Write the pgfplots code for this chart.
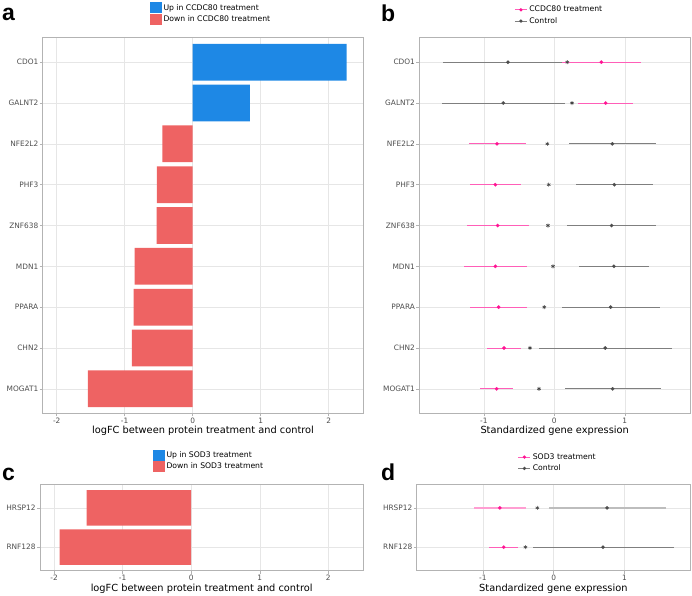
\documentclass[border=0pt]{standalone}
\usepackage{pgfplots}
\pgfplotsset{compat=1.18}
\usepackage{pgfplotstable}
\usepackage{fontspec}
\setmainfont{DejaVu Sans}
\newfontfamily\letterfont{Liberation Sans}

\definecolor{upblue}{HTML}{1E88E5}
\definecolor{downred}{HTML}{EE6363}
\definecolor{pinkpt}{HTML}{FF1493}
\definecolor{pinkline}{HTML}{FF5EB8}
\definecolor{pinklight}{HTML}{FF9ED2}
\definecolor{graypt}{HTML}{4D4D4D}
\definecolor{grayline}{HTML}{7F7F7F}
\definecolor{graylight}{HTML}{BDBDBD}
\definecolor{starcol}{HTML}{444444}
\definecolor{boxcol}{HTML}{B3B3B3}
\definecolor{gridcol}{HTML}{E6E6E6}
\definecolor{ticklab}{HTML}{4D4D4D}

\pgfplotstableread{
y val
9 2.265
8 0.843
}\upA
\pgfplotstableread{
y val
7 -0.447
6 -0.525
5 -0.530
4 -0.853
3 -0.868
2 -0.893
1 -1.540
}\downA
\pgfplotstableread{
y tm tlo thi cm clo chi star
9 0.667 0.113 1.225 -0.657 -1.579 0.120 0.184
8 0.728 0.340 1.120 -0.723 -1.593 0.151 0.251
7 -0.813 -1.210 -0.407 0.823 0.208 1.437 -0.099
6 -0.837 -1.196 -0.473 0.851 0.307 1.395 -0.080
5 -0.804 -1.239 -0.364 0.813 0.184 1.437 -0.090
4 -0.837 -1.281 -0.388 0.846 0.355 1.338 -0.019
3 -0.790 -1.191 -0.388 0.799 0.109 1.494 -0.142
2 -0.714 -0.950 -0.473 0.723 -0.217 1.664 -0.345
1 -0.818 -1.050 -0.582 0.827 0.151 1.508 -0.217
}\dataB
\pgfplotstableread{
y val
2 -1.526
1 -1.919
}\downC
\pgfplotstableread{
y tm tlo thi cm clo chi star
2 -0.762 -1.125 -0.395 0.753 -0.066 1.581 -0.231
}\dataDa
\pgfplotstableread{
y tm tlo thi cm clo chi star
1 -0.706 -0.908 -0.499 0.696 -0.296 1.694 -0.400
}\dataDb

\pgfplotsset{
  panel/.style={
    scale only axis, anchor=north west,
    axis line style={boxcol, line width=0.6pt},
    grid=major, major grid style={gridcol, line width=0.5pt},
    tick style={boxcol, line width=0.5pt}, tick align=outside,
    major tick length=3pt,
    xtick pos=bottom, ytick pos=left,
    ticklabel style={text=ticklab, font=\fontsize{7.4}{8}\selectfont, inner sep=1.2pt},
    xlabel style={font=\fontsize{9.8}{10}\selectfont, text=black, inner sep=0pt, yshift=-1.5pt},
    legend style={draw=none, fill=none, inner sep=0pt, font=\fontsize{7.7}{9}\selectfont,
      row sep=0pt, cells={anchor=west}, text=black},
    legend cell align=left,
  },
  barpanel/.style={panel, xmin=-2.206, xmax=2.51,
    xtick={-2,-1,0,1,2}, xticklabels={{-2},{-1},0,1,2},
    xlabel={logFC between protein treatment and control}},
  dotpanel/.style={panel,
    xtick={-1,0,1}, xticklabels={{-1},0,1},
    xlabel={Standardized gene expression}},
  sq/.style={legend image code/.code={\fill[#1,draw=none] (0pt,-5.6pt) rectangle (11.2pt,5.6pt);}},
  errw/.style 2 args={color=#1, draw=none, mark=none,
    error bars/.cd, x dir=both, x explicit, error mark=none,
    error bar style={draw=#1, line width=#2}},
  errctl/.style={errw={#1}{0.8pt}},
  dot/.style={only marks, mark=*, mark size=1.8pt, color=#1, mark options={solid, fill=#1, draw=#1, line width=0.1pt}},
  star/.style={only marks, mark=asterisk, mark size=2pt, color=starcol, mark options={solid, draw=starcol, line width=0.6pt}},
}
\newcommand{\lineimg}[2]{\draw[#1,line width=0.8pt] (0pt,0pt)--(12pt,0pt); \fill[#2] (6pt,0pt) circle (1.8pt);}

\begin{document}
\begin{tikzpicture}
\useasboundingbox (0,0) rectangle (692pt,-595pt);

% ---------- panel a ----------
\begin{axis}[barpanel, at={(42.7pt,-37.7pt)}, width=320.6pt, height=375.6pt,
  ymin=0.4, ymax=9.6, ytick={1,...,9},
  yticklabels={MOGAT1,CHN2,PPARA,MDN1,ZNF638,PHF3,NFE2L2,GALNT2,CDO1},
  legend style={at={(axis description cs:0.335,1)}, anchor=north west, yshift=35.7pt}]
\addplot[xbar, bar width=0.9, bar shift=0pt, fill=upblue, draw=none, sq=upblue]
  table[x=val, y=y] {\upA};
\addlegendentry{Up in CCDC80 treatment}
\addplot[xbar, bar width=0.9, bar shift=0pt, fill=downred, draw=none, sq=downred]
  table[x=val, y=y] {\downA};
\addlegendentry{Down in CCDC80 treatment}
\end{axis}

% ---------- panel b ----------
\begin{axis}[dotpanel, at={(419.3pt,-37.7pt)}, width=270.7pt, height=375.6pt,
  xmin=-1.915, xmax=1.925, ymin=0.4, ymax=9.6, ytick={1,...,9},
  yticklabels={MOGAT1,CHN2,PPARA,MDN1,ZNF638,PHF3,NFE2L2,GALNT2,CDO1},
  reverse legend,
  legend style={at={(axis description cs:0.351,1)}, anchor=north west, yshift=33.7pt}]
\addplot[legend image code/.code={\lineimg{grayline}{graypt}}, errctl=grayline]
  table[x=cm, y=y, x error plus expr=\thisrow{chi}-\thisrow{cm}, x error minus expr=\thisrow{cm}-\thisrow{clo}] {\dataB};
\addlegendentry{Control}
\addplot[legend image code/.code={\lineimg{pinkline}{pinkpt}}, errctl=pinkline]
  table[x=tm, y=y, x error plus expr=\thisrow{thi}-\thisrow{tm}, x error minus expr=\thisrow{tm}-\thisrow{tlo}] {\dataB};
\addlegendentry{CCDC80 treatment}
\addplot[forget plot, dot=graypt] table[x=cm, y=y] {\dataB};
\addplot[forget plot, dot=pinkpt] table[x=tm, y=y] {\dataB};
\addplot[forget plot, star] table[x=star, y=y] {\dataB};
\end{axis}

% ---------- panel c ----------
\begin{axis}[barpanel, at={(40pt,-484.3pt)}, width=323.3pt, height=86.4pt,
  ymin=0.4, ymax=2.6, ytick={1,2}, yticklabels={RNF128,HRSP12},
  legend style={at={(axis description cs:0.35,1)}, anchor=north west, yshift=35pt}]
\addlegendimage{sq=upblue}
\addlegendentry{Up in SOD3 treatment}
\addplot[xbar, bar width=0.9, bar shift=0pt, fill=downred, draw=none, sq=downred]
  table[x=val, y=y] {\downC};
\addlegendentry{Down in SOD3 treatment}
\end{axis}

% ---------- panel d ----------
\begin{axis}[dotpanel, at={(416.7pt,-484.3pt)}, width=273.3pt, height=86.4pt,
  xmin=-1.935, xmax=1.925, ymin=0.4, ymax=2.6, ytick={1,2}, yticklabels={RNF128,HRSP12},
  reverse legend,
  legend style={at={(axis description cs:0.37,1)}, anchor=north west, yshift=33pt}]
\addplot[legend image code/.code={\lineimg{grayline}{graypt}}, errctl=grayline]
  table[x=cm, y=y, x error plus expr=\thisrow{chi}-\thisrow{cm}, x error minus expr=\thisrow{cm}-\thisrow{clo}] {\dataDb};
\addlegendentry{Control}
\addplot[legend image code/.code={\lineimg{pinkline}{pinkpt}}, errctl=pinkline]
  table[x=tm, y=y, x error plus expr=\thisrow{thi}-\thisrow{tm}, x error minus expr=\thisrow{tm}-\thisrow{tlo}] {\dataDb};
\addlegendentry{SOD3 treatment}
\addplot[forget plot, errw={graylight}{1.6pt}]
  table[x=cm, y=y, x error plus expr=\thisrow{chi}-\thisrow{cm}, x error minus expr=\thisrow{cm}-\thisrow{clo}] {\dataDa};
\addplot[forget plot, errw={pinklight}{1.6pt}]
  table[x=tm, y=y, x error plus expr=\thisrow{thi}-\thisrow{tm}, x error minus expr=\thisrow{tm}-\thisrow{tlo}] {\dataDa};
\addplot[forget plot, dot=graypt] table[x=cm, y=y] {\dataDb};
\addplot[forget plot, dot=pinkpt] table[x=tm, y=y] {\dataDb};
\addplot[forget plot, dot=graypt] table[x=cm, y=y] {\dataDa};
\addplot[forget plot, dot=pinkpt] table[x=tm, y=y] {\dataDa};
\addplot[forget plot, star] table[x=star, y=y] {\dataDa};
\addplot[forget plot, star] table[x=star, y=y] {\dataDb};
\end{axis}

% panel letters
\node[anchor=base west, inner sep=0pt] at (2pt,-20pt) {\letterfont\bfseries\fontsize{23}{24}\selectfont a};
\node[anchor=base west, inner sep=0pt] at (381pt,-21pt) {\letterfont\bfseries\fontsize{23}{24}\selectfont b};
\node[anchor=base west, inner sep=0pt] at (2pt,-480pt) {\letterfont\bfseries\fontsize{23}{24}\selectfont c};
\node[anchor=base west, inner sep=0pt] at (381pt,-480pt) {\letterfont\bfseries\fontsize{23}{24}\selectfont d};
\end{tikzpicture}
\end{document}
